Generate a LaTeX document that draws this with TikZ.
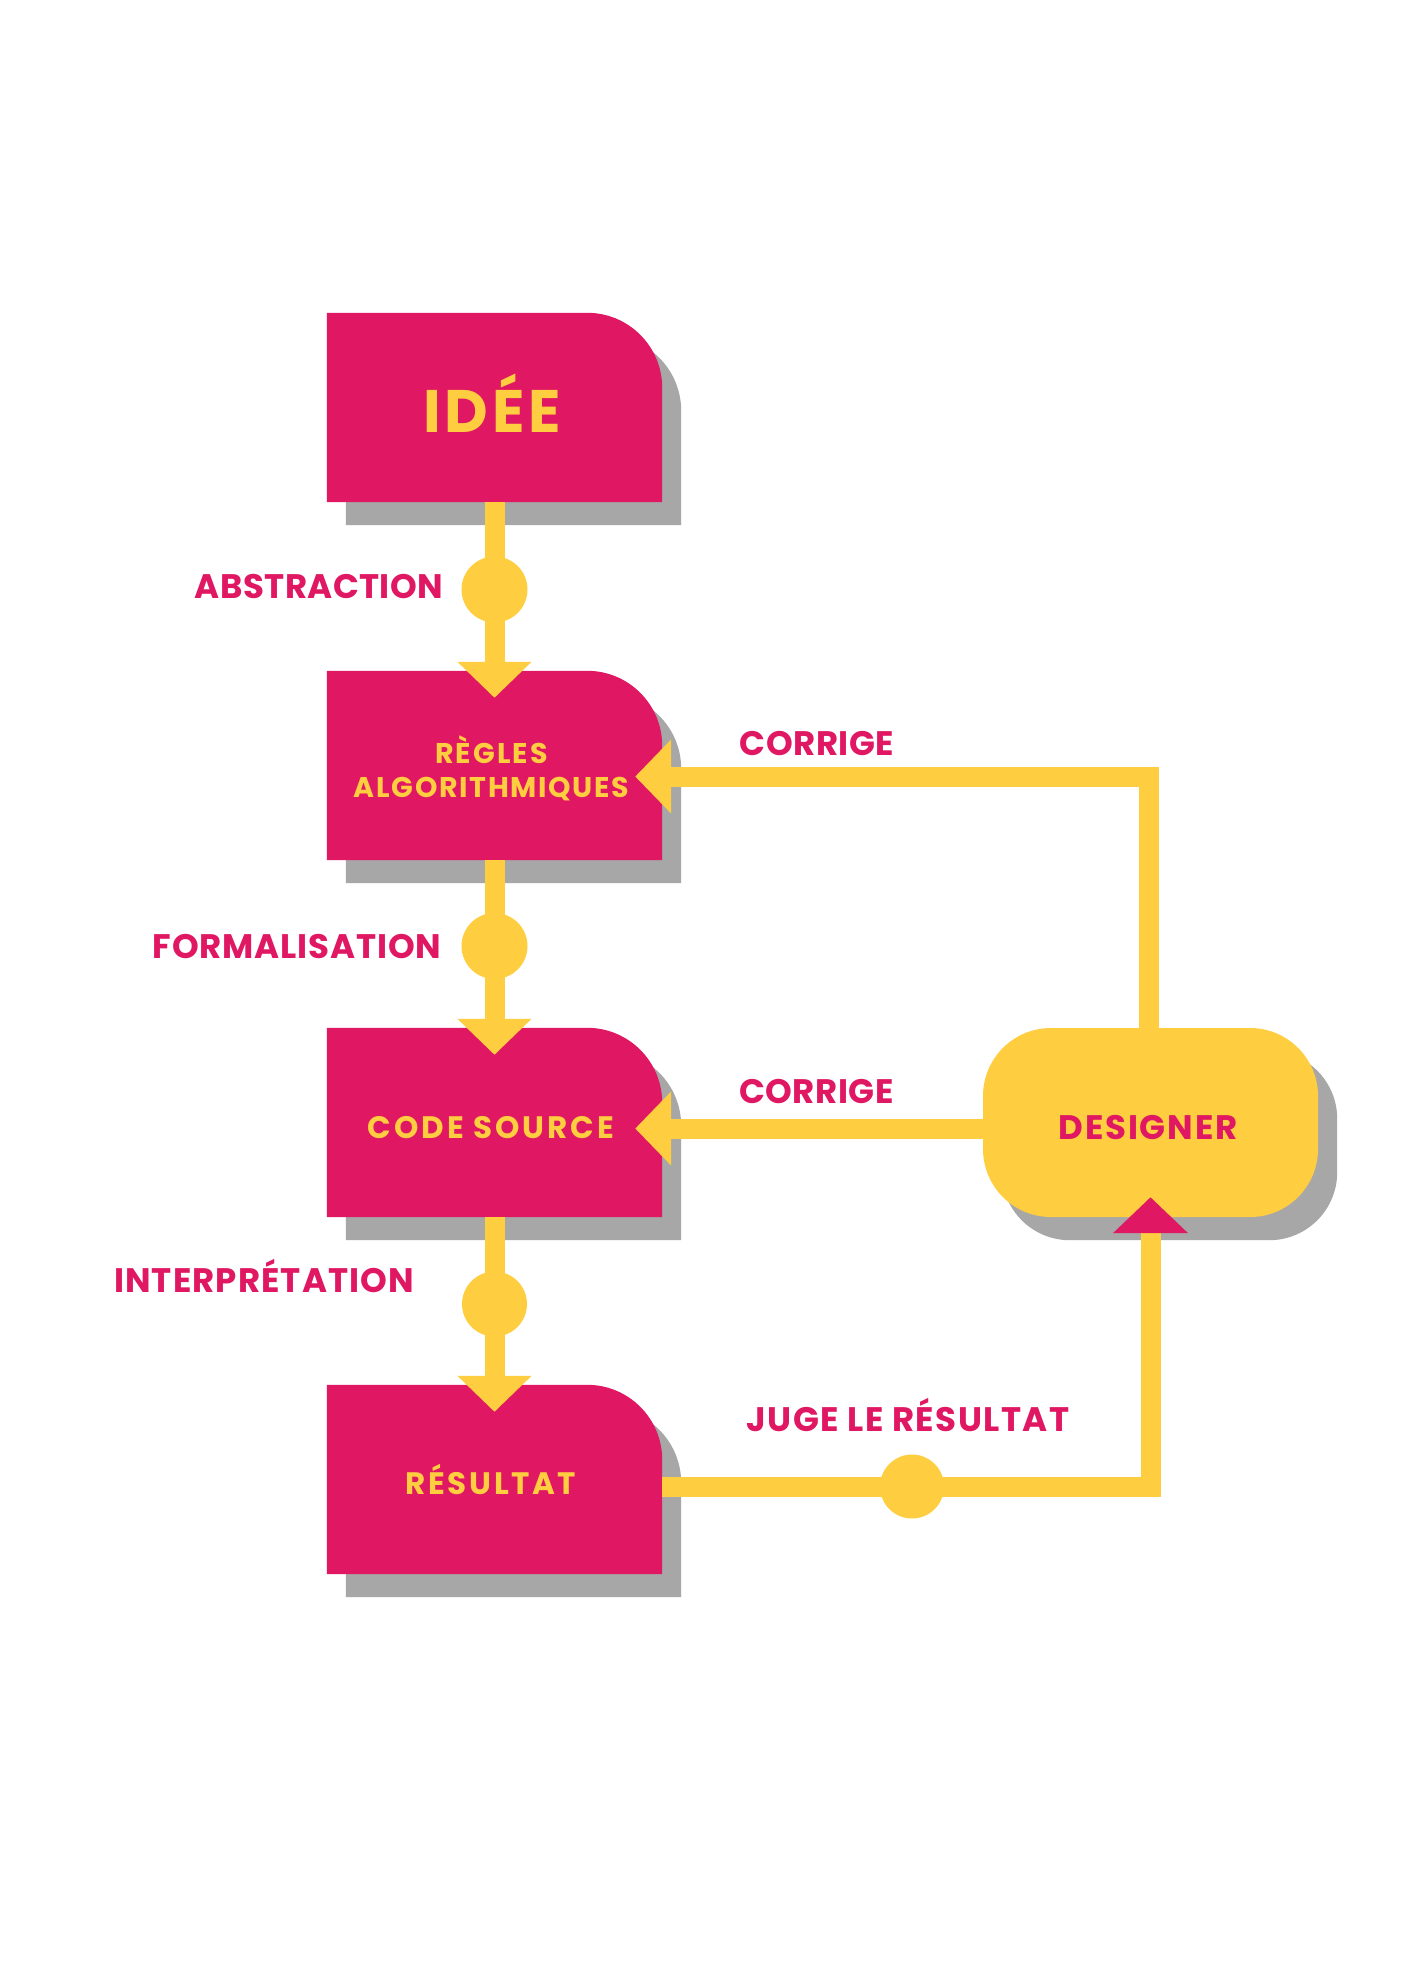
\documentclass[tikz,border=0pt]{standalone}
\usepackage{fontspec}
\setmainfont{Poppins}
\usetikzlibrary{arrows.meta,calc}
\definecolor{mag}{HTML}{E01762}
\definecolor{yel}{HTML}{FFCE40}
\definecolor{shd}{HTML}{A7A7A7}
\pgfdeclarelayer{bg}
\pgfsetlayers{bg,main}
\newcommand\tabshape[4]{\fill[#2] ([shift={(#3,#4)}]#1.south west) -- ([shift={(#3,#4)}]#1.north west) -- ([shift={(#3-75,#4)}]#1.north east) .. controls ([shift={(#3-33.6,#4)}]#1.north east) and ([shift={(#3,#4+33.6)}]#1.north east) .. ([shift={(#3,#4+75)}]#1.north east) -- ([shift={(#3,#4)}]#1.south east) -- cycle;}
\newcommand\ls[2]{{\addfontfeature{LetterSpace=#1}#2}}
\begin{document}
\begin{tikzpicture}[x=1pt,y=-1pt,
  boxnode/.style={minimum width=335pt,minimum height=189pt,inner sep=0pt},
  intext/.style={anchor=base,text=yel,inner sep=0pt,font=\bfseries\fontsize{#1}{#1}\selectfont},
  lab/.style={anchor=base,text=mag,inner sep=0pt,font=\bfseries\fontsize{34}{34}\selectfont},
  dot/.style={circle,fill=yel,minimum size=66pt,inner sep=0pt},
  conn/.style={draw=yel,line width=20pt,-{Triangle[width=72pt,length=36pt]}}]
\useasboundingbox (0,0) rectangle (1400,1980);
% boxes
\node[boxnode] (idee) at (494.5,407.5) {};
\node[boxnode] (regles) at (494.5,765.5) {};
\node[boxnode] (code) at (494.5,1122.5) {};
\node[boxnode] (resultat) at (494.5,1479.5) {};
\node[boxnode,fill=yel,rounded corners=68pt] (designer) at (1150.5,1122.5) {};
\begin{pgfonlayer}{bg}
\fill[white] (0,0) rectangle (1400,1980);
\tabshape{idee}{shd}{19}{23}
\tabshape{regles}{shd}{19}{23}
\tabshape{code}{shd}{19}{23}
\tabshape{resultat}{shd}{19}{23}
\fill[shd,rounded corners=68pt] ([shift={(19,23)}]designer.south west) rectangle ([shift={(19,23)}]designer.north east);
\tabshape{idee}{mag}{0}{0}
\tabshape{regles}{mag}{0}{0}
\tabshape{code}{mag}{0}{0}
\tabshape{resultat}{mag}{0}{0}
\end{pgfonlayer}
% vertical flow
\draw[conn] (idee.south) -- ([yshift=-27pt]regles.north);
\draw[conn] (regles.south) -- ([yshift=-27pt]code.north);
\draw[conn] (code.south) -- ([yshift=-27pt]resultat.north);
\node[dot] (d1) at ($(idee.south)!0.5!(regles.north)+(0,3)$) {};
\node[dot] (d2) at ($(regles.south)!0.5!(code.north)+(0,2)$) {};
\node[dot,minimum size=65pt] (d3) at ($(code.south)!0.5!(resultat.north)+(0,3)$) {};
% feedback loops
\draw[conn] ([xshift=-2pt]designer.north) |- ([xshift=-27pt,yshift=-11pt]regles.east);
\draw[conn] ([yshift=-6pt]designer.west) -- ([xshift=-27pt,yshift=-6pt]code.east);
\draw[conn,-{Triangle[width=73pt,length=36pt,color=mag]}] ([yshift=-7pt]resultat.east) -| ([yshift=20pt]designer.south);
\node[dot,minimum size=64pt] (d4) at (912,1486.5) {};
% texts
\node[intext=60] (tidee) at (492,432) {\ls{6.5}{IDÉE}};
\node[intext=28.5] (tregles) at (491.5,763) {\ls{7}{RÈGLES}};
\node[intext=28.5] (talgo) at (491.5,797) {\ls{6}{ALGORITHMIQUES}};
\node[intext=31] (tcode) at (491,1138) {\ls{9.5}{CODE SOURCE}};
\node[intext=31] (tres) at (491,1494) {\ls{8.5}{RÉSULTAT}};
\node[lab] (tdes) at (1148,1139) {\ls{5.5}{DESIGNER}};
\node[lab] (labs) at (319,598) {\ls{1.2}{ABSTRACTION}};
\node[lab] (lform) at (297,958) {\ls{2.5}{FORMALISATION}};
\node[lab] (linter) at (264,1292) {\ls{3.2}{INTERPRÉTATION}};
\node[lab] (lcor1) at (817,755) {\ls{1.5}{CORRIGE}};
\node[lab] (lcor2) at (816.5,1103) {\ls{1.5}{CORRIGE}};
\node[lab] (ljuge) at (908,1431) {\ls{4.3}{JUGE LE RÉSULTAT}};
\end{tikzpicture}
\end{document}
